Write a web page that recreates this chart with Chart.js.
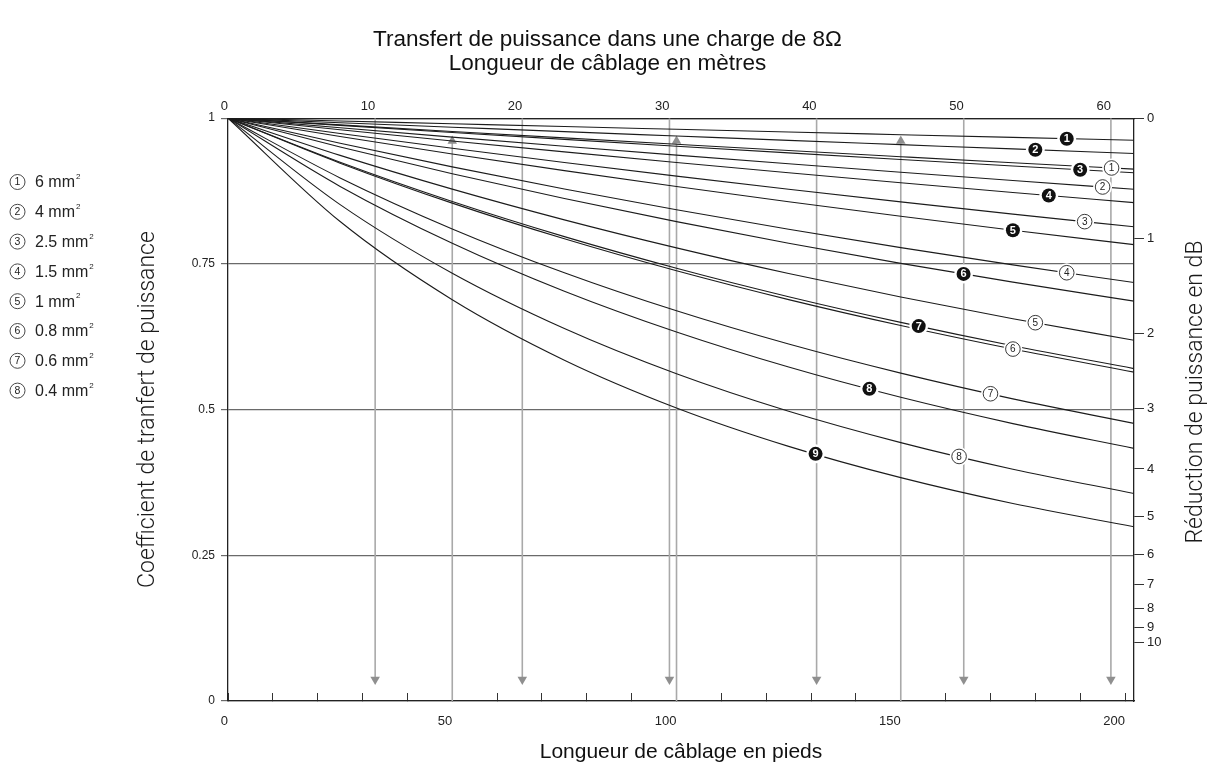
<!DOCTYPE html>
<html lang="fr">
<head>
<meta charset="utf-8">
<title>Transfert de puissance dans une charge de 8Ω</title>
<script src="https://cdn.jsdelivr.net/npm/chart.js@4.4.1/dist/chart.umd.min.js"></script>
<style>
  html, body { margin: 0; padding: 0; background: #ffffff; }
  canvas { display: block; }
</style>
</head>
<body>
<canvas id="graphe" width="1215" height="766"></canvas>
<script>
// Longueurs de câble (pieds) où chaque courbe est relevée
const longueursPieds = [0, 25, 50, 75, 100, 125, 150, 175, 202];

// Courbes repérées par un chiffre noir (❶ … ❾)
const courbeN1 = [1, 0.9952, 0.9904, 0.9856, 0.9809, 0.9762, 0.9716, 0.9670, 0.9620];
const courbeN2 = [1, 0.9922, 0.9845, 0.9768, 0.9693, 0.9618, 0.9545, 0.9472, 0.9394];
const courbeN3 = [1, 0.9876, 0.9755, 0.9636, 0.9519, 0.9404, 0.9291, 0.9180, 0.9063];
const courbeN4 = [1, 0.9801, 0.9609, 0.9421, 0.9240, 0.9063, 0.8892, 0.8725, 0.8550];
const courbeN5 = [1, 0.9686, 0.9386, 0.9100, 0.8826, 0.8565, 0.8316, 0.8077, 0.7830];
const courbeN6 = [1, 0.9506, 0.9047, 0.8621, 0.8225, 0.7855, 0.7509, 0.7186, 0.6860];
const courbeN7 = [1, 0.9243, 0.8570, 0.7967, 0.7425, 0.6937, 0.6496, 0.6095, 0.5703];
const courbeN8 = [1, 0.8829, 0.7853, 0.7030, 0.6330, 0.5729, 0.5210, 0.4759, 0.4334];
const courbeN9 = [1, 0.8226, 0.6885, 0.5848, 0.5028, 0.4369, 0.3832, 0.3388, 0.2990];

// Courbes repérées par un chiffre cerclé (① … ⑧), une par section de la légende
const courbeC1 = [1, 0.9885, 0.9772, 0.9661, 0.9552, 0.9444, 0.9339, 0.9235, 0.9125];
const courbeC2 = [1, 0.9836, 0.9675, 0.9519, 0.9366, 0.9217, 0.9072, 0.8930, 0.8780];
const courbeC3 = [1, 0.9736, 0.9483, 0.9240, 0.9005, 0.8780, 0.8563, 0.8353, 0.8136];
const courbeC4 = [1, 0.9569, 0.9164, 0.8785, 0.8429, 0.8095, 0.7779, 0.7482, 0.7180];
const courbeC5 = [1, 0.9361, 0.8782, 0.8255, 0.7774, 0.7334, 0.6930, 0.6559, 0.6190];
const courbeC6 = [1, 0.9228, 0.8542, 0.7930, 0.7381, 0.6887, 0.6442, 0.6038, 0.5643];
const courbeC7 = [1, 0.8975, 0.8100, 0.7347, 0.6694, 0.6124, 0.5625, 0.5183, 0.4763];
const courbeC8 = [1, 0.8516, 0.7339, 0.6390, 0.5614, 0.4971, 0.4433, 0.3977, 0.3560];

// Sections de câble (mm²) de la légende
const sectionsMm2 = ['6', '4', '2.5', '1.5', '1', '0.8', '0.6', '0.4'];

// Graduations des axes
const graduationsPieds = [0, 10, 20, 30, 40, 50, 60, 70, 80, 90, 100, 110, 120, 130, 140, 150, 160, 170, 180, 190, 200];
const etiquettesPieds = [0, 50, 100, 150, 200];
const graduationsMetres = [0, 10, 20, 30, 40, 50, 60];
const graduationsDb = [0, 1, 2, 3, 4, 5, 6, 7, 8, 9, 10];
const graduationsCoef = [0, 0.25, 0.5, 0.75, 1];

// Repères fléchés : verticales montantes (pieds) et descendantes (mètres)
const reperesPieds = [50, 100, 150];
const reperesMetres = [10, 20, 30, 40, 50, 60];

const PIEDS_PAR_METRE = 3.28084;
const LONGUEUR_MAX_PIEDS = 202;

// Abscisse (pieds) où se place le repère de chaque courbe
const repereN = [187, 180, 190, 183, 175, 164, 154, 143, 131];
const repereC = [197, 195, 191, 187, 180, 175, 170, 163];

const POLICE = '"Liberation Sans", Arial, Helvetica, sans-serif';
const POLICE_FINE = 'Roboto, "Liberation Sans Narrow", sans-serif';

const versPoints = (valeurs) => longueursPieds.map((x, i) => ({ x, y: valeurs[i] }));

const styleCourbe = {
  borderColor: '#1c1c1c',
  borderWidth: 1.1,
  pointRadius: 0,
  fill: false,
  cubicInterpolationMode: 'monotone'
};

const courbesN = [courbeN1, courbeN2, courbeN3, courbeN4, courbeN5, courbeN6, courbeN7, courbeN8, courbeN9];
const courbesC = [courbeC1, courbeC2, courbeC3, courbeC4, courbeC5, courbeC6, courbeC7, courbeC8];

const jeux = [];
courbesN.forEach((v, i) => jeux.push({
  label: 'N' + (i + 1), data: versPoints(v), ...styleCourbe,
  repere: { plein: true, n: i + 1, x: repereN[i] }
}));
courbesC.forEach((v, i) => jeux.push({
  label: 'C' + (i + 1), data: versPoints(v), ...styleCourbe,
  repere: { plein: false, n: i + 1, x: repereC[i] }
}));

// Verticales des mètres, flèche vers le bas
reperesMetres.forEach((m) => {
  const x = m * PIEDS_PAR_METRE;
  jeux.push({
    label: m + ' m', data: [{ x, y: 1 }, { x, y: 0.037 }],
    borderColor: '#a9a9a9', borderWidth: 1.6,
    pointRadius: [0, 5.5], pointStyle: 'triangle', pointRotation: 180,
    pointBackgroundColor: '#8f8f8f', pointBorderColor: '#8f8f8f', pointBorderWidth: 0
  });
});
// Verticales des pieds, flèche vers le haut
reperesPieds.forEach((p) => {
  jeux.push({
    label: p + ' ft', data: [{ x: p, y: 0 }, { x: p, y: 0.961 }],
    borderColor: '#a9a9a9', borderWidth: 1.6,
    pointRadius: [0, 5.5], pointStyle: 'triangle', pointRotation: 0,
    pointBackgroundColor: '#8f8f8f', pointBorderColor: '#8f8f8f', pointBorderWidth: 0
  });
});

// Repères numérotés posés sur les courbes
const reperesCourbes = {
  id: 'reperesCourbes',
  afterDatasetsDraw(chart) {
    const { ctx } = chart;
    const sx = chart.scales.x, sy = chart.scales.y;
    chart.data.datasets.forEach((ds) => {
      if (!ds.repere) return;
      const xv = ds.repere.x;
      const pts = ds.data;
      let yv = pts[pts.length - 1].y;
      for (let k = 1; k < pts.length; k++) {
        if (xv <= pts[k].x) {
          const a = pts[k - 1], b = pts[k];
          yv = a.y + (b.y - a.y) * (xv - a.x) / (b.x - a.x);
          break;
        }
      }
      const px = sx.getPixelForValue(xv);
      const py = sy.getPixelForValue(yv);
      ctx.save();
      ctx.fillStyle = '#ffffff';
      ctx.beginPath(); ctx.arc(px, py, 9.5, 0, Math.PI * 2); ctx.fill();
      ctx.textAlign = 'center';
      ctx.textBaseline = 'middle';
      if (ds.repere.plein) {
        ctx.fillStyle = '#111111';
        ctx.beginPath(); ctx.arc(px, py, 7, 0, Math.PI * 2); ctx.fill();
        ctx.fillStyle = '#ffffff';
        ctx.font = 'bold 11px ' + POLICE;
      } else {
        ctx.strokeStyle = '#222222'; ctx.lineWidth = 0.9;
        ctx.beginPath(); ctx.arc(px, py, 7.3, 0, Math.PI * 2); ctx.stroke();
        ctx.fillStyle = '#222222';
        ctx.font = '10px ' + POLICE;
      }
      ctx.fillText(String(ds.repere.n), px, py + 0.5);
      ctx.restore();
    });
  }
};

// Légende des sections et titre de l'axe des dB
const textesLateraux = {
  id: 'textesLateraux',
  afterDraw(chart) {
    const { ctx } = chart;
    ctx.save();
    sectionsMm2.forEach((s, i) => {
      const y = 182 + i * 29.8;
      ctx.strokeStyle = '#333333'; ctx.lineWidth = 0.9;
      ctx.beginPath(); ctx.arc(17.5, y, 7.5, 0, Math.PI * 2); ctx.stroke();
      ctx.fillStyle = '#222222';
      ctx.textAlign = 'center'; ctx.textBaseline = 'middle';
      ctx.font = '10.5px ' + POLICE;
      ctx.fillText(String(i + 1), 17.5, y + 0.5);
      ctx.textAlign = 'left';
      ctx.font = '16px ' + POLICE;
      const t = s + ' mm';
      ctx.fillText(t, 35, y + 1);
      const w = ctx.measureText(t).width;
      ctx.font = '8px ' + POLICE;
      ctx.fillText('2', 35 + w + 1, y - 5);
    });
    ctx.translate(1196, 392);
    ctx.rotate(-Math.PI / 2);
    ctx.textAlign = 'center'; ctx.textBaseline = 'middle';
    ctx.fillStyle = '#1a1a1a';
    ctx.font = '300 23px ' + POLICE_FINE;
    ctx.fillText('Réduction de puissance en dB', 0, 0);
    ctx.restore();
  }
};

new Chart(document.getElementById('graphe'), {
  type: 'line',
  data: { datasets: jeux },
  plugins: [reperesCourbes, textesLateraux],
  options: {
    responsive: false,
    animation: false,
    parsing: true,
    layout: { padding: 0 },
    plugins: {
      legend: { display: false },
      tooltip: { enabled: false },
      title: {
        display: true,
        text: ['Transfert de puissance dans une charge de 8Ω', 'Longueur de câblage en mètres'],
        color: '#111111',
        font: { family: POLICE, size: 22.5, weight: 'normal', lineHeight: 1.07 },
        padding: { top: 28, bottom: 0 }
      }
    },
    scales: {
      x: {
        type: 'linear', position: 'bottom',
        min: 0, max: LONGUEUR_MAX_PIEDS,
        afterBuildTicks: (s) => { s.ticks = graduationsPieds.map((v) => ({ value: v })); },
        afterFit: (s) => { s.height = 65; },
        ticks: {
          autoSkip: false, maxRotation: 0, align: 'end', padding: 21,
          color: '#222222', font: { family: POLICE, size: 13 },
          callback: (v) => (etiquettesPieds.includes(v) ? String(v) : '')
        },
        grid: { drawOnChartArea: false, drawTicks: true, tickLength: -8, color: '#333333', lineWidth: 1 },
        border: { display: true, color: '#222222', width: 1.3 },
        title: {
          display: true, text: 'Longueur de câblage en pieds', color: '#111111',
          font: { family: POLICE, size: 21 }, padding: { top: 0, bottom: 1 }
        }
      },
      x2: {
        type: 'linear', position: 'top',
        min: 0, max: LONGUEUR_MAX_PIEDS / PIEDS_PAR_METRE,
        afterBuildTicks: (s) => { s.ticks = graduationsMetres.map((v) => ({ value: v })); },
        afterFit: (s) => { s.height = 42; },
        ticks: {
          autoSkip: false, maxRotation: 0, align: 'end', padding: 4,
          color: '#222222', font: { family: POLICE, size: 13 },
          callback: (v) => String(v)
        },
        grid: { display: false, drawTicks: false },
        border: { display: true, color: '#222222', width: 1.3 }
      },
      y: {
        type: 'linear', position: 'left',
        min: 0, max: 1,
        afterBuildTicks: (s) => { s.ticks = graduationsCoef.map((v) => ({ value: v })); },
        afterFit: (s) => { s.width = 228; },
        ticks: {
          padding: 6, color: '#222222', font: { family: POLICE, size: 12 },
          callback: (v) => String(v)
        },
        grid: { drawOnChartArea: true, drawTicks: true, tickLength: 7, color: '#6a6a6a', lineWidth: 1.2 },
        border: { display: true, color: '#222222', width: 1.3 },
        title: {
          display: true, text: 'Coefficient de tranfert de puissance', color: '#1a1a1a',
          font: { family: POLICE_FINE, size: 23, weight: '300' }, padding: { top: 134, bottom: 0 }
        }
      },
      y2: {
        type: 'linear', position: 'right',
        min: 0, max: 1,
        afterBuildTicks: (s) => { s.ticks = graduationsDb.map((d) => ({ value: Math.pow(10, -d / 10) })); },
        afterFit: (s) => { s.width = 81; },
        ticks: {
          padding: 3, color: '#222222', font: { family: POLICE, size: 13 },
          callback: (v, i) => String(graduationsDb[i])
        },
        grid: { drawOnChartArea: false, drawTicks: true, tickLength: 10, color: '#333333', lineWidth: 1 },
        border: { display: true, color: '#222222', width: 1.3 }
      }
    }
  }
});
</script>
</body>
</html>
